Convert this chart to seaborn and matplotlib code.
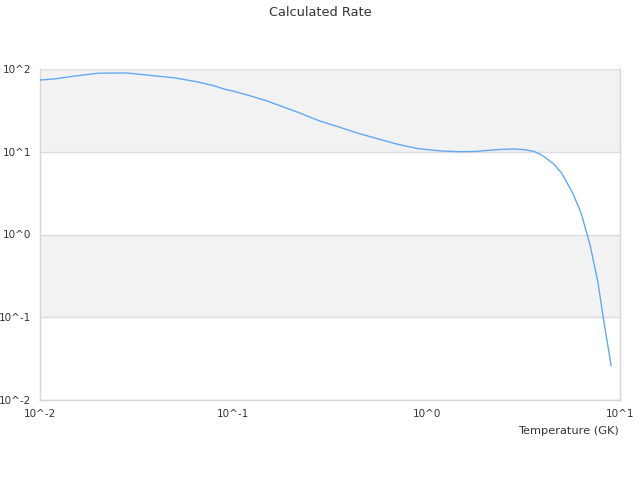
#!/usr/bin/env python3

import numpy as np
import pandas as pd
import seaborn as sns
from matplotlib import pyplot as plt
from matplotlib.ticker import FuncFormatter, FixedLocator, NullLocator

# temperature (GK) and rate
temperature = [0.010, 0.012, 0.015, 0.020, 0.028, 0.035, 0.050, 0.065, 0.080,
               0.090, 0.10, 0.12, 0.15, 0.18, 0.22, 0.28, 0.35, 0.45, 0.55,
               0.70, 0.90, 1.2, 1.5, 1.8, 2.3, 2.8, 3.2, 3.6, 4.0, 4.5, 5.0,
               5.7, 6.3, 7.0, 7.7, 8.2, 9.0]
rate = [73.6, 76, 82, 89, 89.5, 85, 78, 70, 62.5,
        57, 54, 48, 41, 35, 29.5, 23.5, 20, 16.5, 14.5,
        12.4, 10.9, 10.2, 10.0, 10.1, 10.6, 10.8, 10.6, 10.1, 8.9, 7.25, 5.5,
        3.15, 1.8, 0.75, 0.26, 0.097, 0.026]

x_ticks = [0.01, 0.1, 1, 10]
y_ticks = [0.01, 0.1, 1, 10, 100]

df = pd.DataFrame({'T': temperature, 'rate': rate})

sns.set_theme(style="white")
plt.rcParams['font.family'] = ['DejaVu Sans']

fig = plt.figure(figsize=(6.4, 4.8), dpi=100)
ax = fig.add_axes([40 / 640, 1 - 400 / 480, 580 / 640, 331 / 480])

ax.set_xscale('log')
ax.set_yscale('log')
ax.set_xlim(x_ticks[0], x_ticks[-1])
ax.set_ylim(y_ticks[0], y_ticks[-1])

# alternating bands
ax.axhspan(10, 100, color='#f2f2f2', zorder=0, lw=0)
ax.axhspan(0.1, 1, color='#f2f2f2', zorder=0, lw=0)
for yv in y_ticks:
    ax.axhline(yv, color='#dddddd', lw=1, zorder=1)

sns.lineplot(data=df, x='T', y='rate', color='#62a8f2', linewidth=1,
             ax=ax, zorder=3)

fmt = FuncFormatter(lambda v, p: '10^{}'.format(int(round(np.log10(v)))))
ax.xaxis.set_major_locator(FixedLocator(x_ticks))
ax.yaxis.set_major_locator(FixedLocator(y_ticks))
ax.xaxis.set_minor_locator(NullLocator())
ax.yaxis.set_minor_locator(NullLocator())
ax.xaxis.set_major_formatter(fmt)
ax.yaxis.set_major_formatter(fmt)
ax.tick_params(length=0, labelsize=7.5, labelcolor='#333333')
ax.tick_params(axis='y', pad=6.5)
ax.tick_params(axis='x', pad=6.5)

ax.set_xlabel(None)
ax.set_ylabel(None)

for side in ['left', 'right', 'bottom']:
    ax.spines[side].set_color('#d6d6d6')
    ax.spines[side].set_linewidth(1)
ax.spines['top'].set_visible(False)

fig.text(0.5, 1 - 12 / 480, 'Calculated Rate', ha='center', va='center',
         fontsize=9.3, color='#333333')
fig.text(619 / 640, 1 - 431 / 480, 'Temperature (GK)', ha='right',
         va='center', fontsize=8.2, color='#333333')

fig.savefig('out.png')
